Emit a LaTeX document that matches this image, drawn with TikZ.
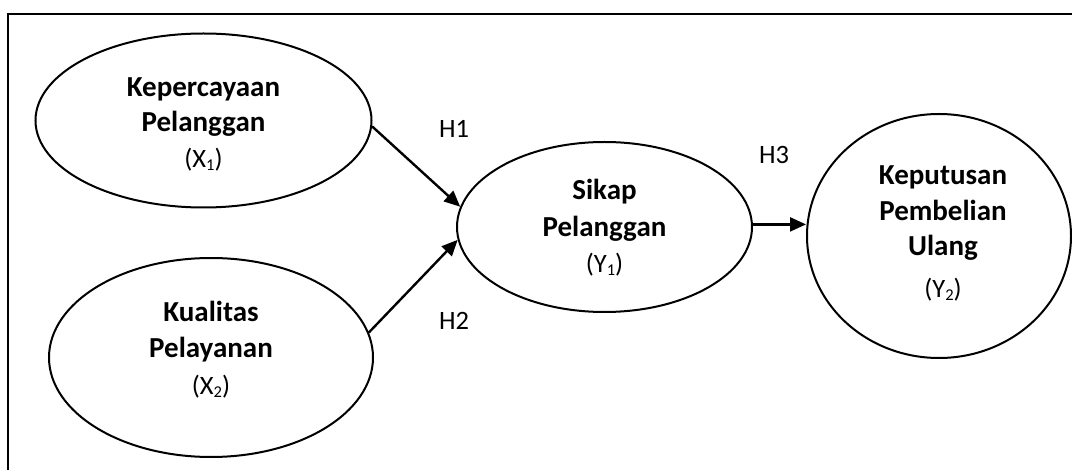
\documentclass[tikz,border=0pt]{standalone}
\usepackage{fontspec}
\setmainfont{Carlito}
\usetikzlibrary{arrows.meta,shapes.geometric}
\newcommand\mysub[1]{\raisebox{-0.1em}{\fontsize{16.5}{16.5}\selectfont #1}}
\tikzset{
  ell/.style={draw, ellipse, line width=2pt, inner sep=0pt},
  bt/.style={anchor=base, inner sep=0pt, font=\fontsize{29}{35}\selectfont\bfseries},
  rt/.style={anchor=base, inner sep=0pt, font=\fontsize{26.5}{31}\selectfont},
  hl/.style={anchor=base, inner sep=0pt, font=\fontsize{26.5}{31}\selectfont},
  arr/.style={line width=2.4pt, -{Triangle[length=16pt,width=14pt]}},
  frame/.style={line width=2.6pt}
}
\begin{document}
\begin{tikzpicture}[x=1pt,y=-1pt]
\useasboundingbox (0,0) rectangle (1072,470);
\coordinate (ftr) at (1072,14);
\coordinate (ftl) at (8,14);
\coordinate (fbl) at (8,470);
\draw[frame] (ftr) -- (ftl) -- (fbl);

\node[ell, minimum width=336pt, minimum height=174pt] (x1) at (203.5,120.5) {};
\node[ell, minimum width=324pt, minimum height=199pt] (x2) at (211,357.5) {};
\node[ell, minimum width=295pt, minimum height=170pt] (y1) at (604.5,227) {};
\node[ell, minimum width=264pt, minimum height=244pt] (y2) at (939,236) {};

\node[bt] (x1a) at (203.5,97) {Kepercayaan};
\node[bt] (x1b) at (203.5,132) {Pelanggan};
\node[rt] (x1c) at (203.5,168) {(X\mysub{1})};

\node[bt] (x2a) at (211,322) {Kualitas};
\node[bt] (x2b) at (211,358) {Pelayanan};
\node[rt] (x2c) at (211,395) {(X\mysub{2})};

\node[bt] (y1a) at (604.5,200) {Sikap};
\node[bt] (y1b) at (604.5,237) {Pelanggan};
\node[rt] (y1c) at (604.5,273) {(Y\mysub{1})};

\node[bt] (y2a) at (943,185) {Keputusan};
\node[bt] (y2b) at (943,221) {Pembelian};
\node[bt] (y2c) at (943,256) {Ulang};
\node[rt] (y2d) at (943,298) {(Y\mysub{2})};

\draw[arr] (x1.-2.5) -- (y1.172);
\draw[arr] (x2.9.5) -- (y1.185);
\draw[arr] (y1.1) -- (y1.1 -| y2.west);

\node[hl] (h1) at (454,138) {H1};
\node[hl] (h2) at (454,330) {H2};
\node[hl] (h3) at (774,164) {H3};
\end{tikzpicture}
\end{document}
